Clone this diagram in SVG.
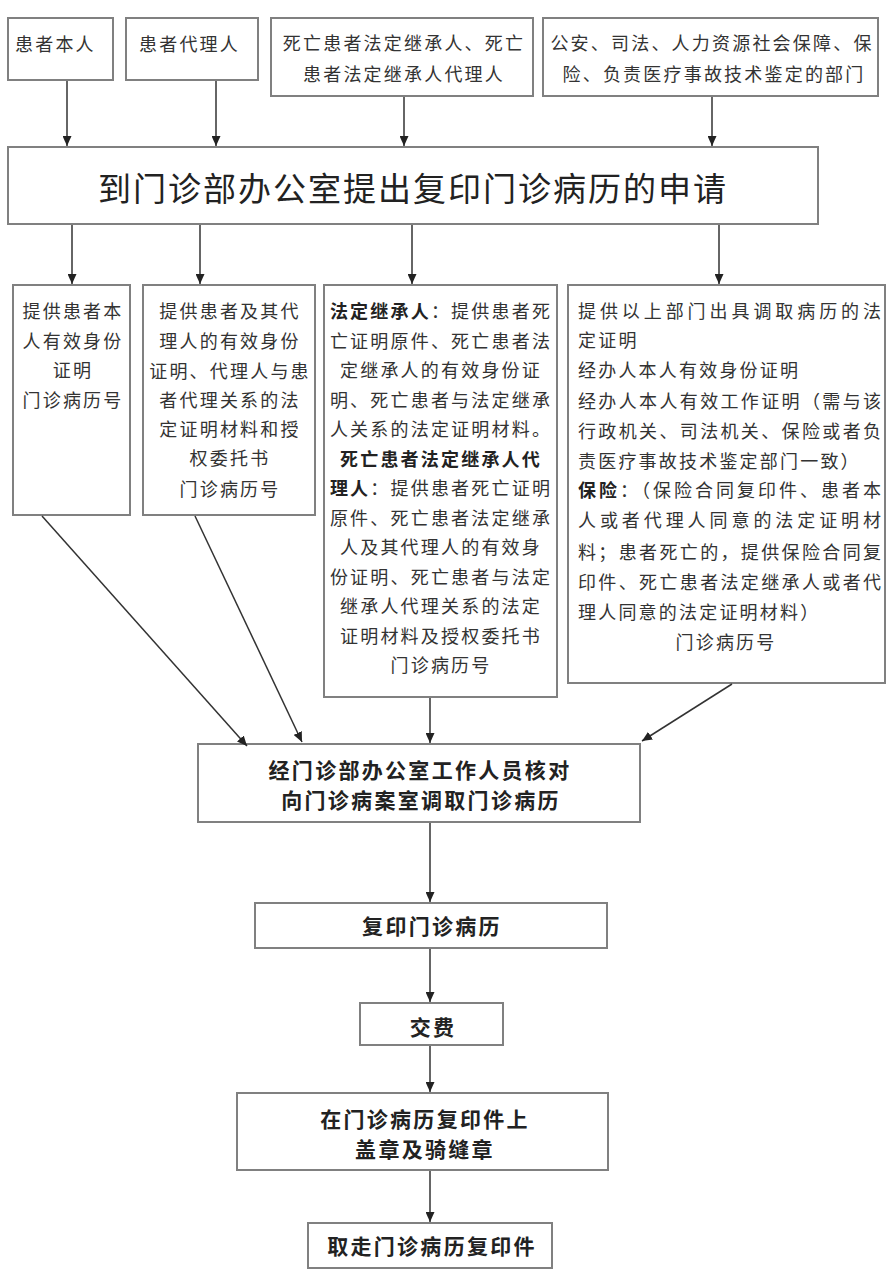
<svg xmlns="http://www.w3.org/2000/svg" width="896" height="1280" viewBox="0 0 896 1280">
<defs>
<marker id="ah" markerUnits="userSpaceOnUse" markerWidth="10" markerHeight="9" refX="10" refY="4.5" orient="auto">
<path d="M0,0 L10,4.5 L0,9 z" fill="#222"/>
</marker>
<style>
.box{fill:#fff;stroke:#808080;stroke-width:2}
.t{font-family:"Noto Sans CJK SC","Noto Sans",sans-serif;font-size:18px;fill:#333;letter-spacing:2.2px}
.j{letter-spacing:0}
.c{text-anchor:middle}
.b{font-weight:bold;fill:#222}
.big{font-family:"Noto Sans CJK SC","Noto Sans",sans-serif;font-size:33px;fill:#222;text-anchor:middle;letter-spacing:2px}
.m{font-family:"Noto Sans CJK SC","Noto Sans",sans-serif;font-size:21px;font-weight:bold;fill:#222;text-anchor:middle;letter-spacing:2.3px}
.ln{stroke:#333;stroke-width:1.5;fill:none;marker-end:url(#ah)}
</style>
</defs>
<rect width="896" height="1280" fill="#fff"/>

<g id="src1"><rect class="box" x="8" y="18" width="105" height="62"/><text class="t" x="15" y="51">患者本人</text></g>
<g id="src2"><rect class="box" x="126" y="18" width="132" height="62"/><text class="t" x="139" y="51">患者代理人</text></g>
<g id="src3"><rect class="box" x="271" y="18" width="262" height="78"/>
<text class="t c" x="404" y="50">死亡患者法定继承人、死亡</text>
<text class="t c" x="404" y="81">患者法定继承人代理人</text></g>
<g id="src4"><rect class="box" x="543" y="18" width="335" height="78"/>
<text class="t c" x="712" y="50">公安、司法、人力资源社会保障、保</text>
<text class="t c" x="714" y="81">险、负责医疗事故技术鉴定的部门</text></g>

<g id="apply"><rect class="box" x="8" y="147" width="810" height="77"/>
<text class="big" x="413" y="201">到门诊部办公室提出复印门诊病历的申请</text></g>

<g id="req1"><rect class="box" x="13" y="285" width="117" height="230"/>
<text class="t c" x="73" y="318">提供患者本</text>
<text class="t c" x="73" y="348">人有效身份</text>
<text class="t c" x="73" y="377">证明</text>
<text class="t c" x="73" y="407">门诊病历号</text></g>

<g id="req2"><rect class="box" x="143" y="285" width="172" height="230"/>
<text class="t c" x="230" y="318">提供患者及其代</text>
<text class="t c" x="230" y="348">理人的有效身份</text>
<text class="t c" x="230" y="378">证明、代理人与患</text>
<text class="t c" x="230" y="407">者代理关系的法</text>
<text class="t c" x="230" y="436">定证明材料和授</text>
<text class="t c" x="230" y="465">权委托书</text>
<text class="t c" x="230" y="496">门诊病历号</text></g>

<g id="req3"><rect class="box" x="324" y="285" width="233" height="412"/>
<text class="t c" x="441" y="318"><tspan class="b">法定继承人</tspan>：提供患者死</text>
<text class="t c" x="441" y="348">亡证明原件、死亡患者法</text>
<text class="t c" x="441" y="377">定继承人的有效身份证</text>
<text class="t c" x="441" y="407">明、死亡患者与法定继承</text>
<text class="t c" x="441" y="436">人关系的法定证明材料。</text>
<text class="t c b" x="441" y="466">死亡患者法定继承人代</text>
<text class="t c" x="441" y="495"><tspan class="b">理人</tspan>：提供患者死亡证明</text>
<text class="t c" x="441" y="525">原件、死亡患者法定继承</text>
<text class="t c" x="441" y="554">人及其代理人的有效身</text>
<text class="t c" x="441" y="584">份证明、死亡患者与法定</text>
<text class="t c" x="441" y="613">继承人代理关系的法定</text>
<text class="t c" x="441" y="643">证明材料及授权委托书</text>
<text class="t c" x="441" y="672">门诊病历号</text></g>

<g id="req4"><rect class="box" x="568" y="285" width="317" height="398"/>
<text class="t j" x="578" y="318" textLength="303" lengthAdjust="spacing">提供以上部门出具调取病历的法</text>
<text class="t" x="578" y="347">定证明</text>
<text class="t" x="578" y="377">经办人本人有效身份证明</text>
<text class="t j" x="578" y="408" textLength="303" lengthAdjust="spacing">经办人本人有效工作证明（需与该</text>
<text class="t j" x="578" y="438" textLength="303" lengthAdjust="spacing">行政机关、司法机关、保险或者负</text>
<text class="t" x="578" y="468">责医疗事故技术鉴定部门一致）</text>
<text class="t j" x="578" y="497" textLength="303" lengthAdjust="spacing"><tspan class="b">保险</tspan>：（保险合同复印件、患者本</text>
<text class="t j" x="578" y="527" textLength="303" lengthAdjust="spacing">人或者代理人同意的法定证明材</text>
<text class="t j" x="578" y="559" textLength="303" lengthAdjust="spacing">料；患者死亡的，提供保险合同复</text>
<text class="t j" x="578" y="589" textLength="303" lengthAdjust="spacing">印件、死亡患者法定继承人或者代</text>
<text class="t" x="578" y="619">理人同意的法定证明材料）</text>
<text class="t c" x="726" y="649">门诊病历号</text></g>

<g id="verify"><rect class="box" x="198" y="744" width="442" height="78"/>
<text class="m" x="420" y="778">经门诊部办公室工作人员核对</text>
<text class="m" x="421" y="808">向门诊病案室调取门诊病历</text></g>

<g id="copy"><rect class="box" x="255" y="903" width="352" height="45"/>
<text class="m" x="432" y="934">复印门诊病历</text></g>

<g id="pay"><rect class="box" x="360" y="1003" width="143" height="42"/>
<text class="m" x="433" y="1035">交费</text></g>

<g id="stamp"><rect class="box" x="237" y="1093" width="371" height="77"/>
<text class="m" x="425" y="1127">在门诊病历复印件上</text>
<text class="m" x="425" y="1157">盖章及骑缝章</text></g>

<g id="take"><rect class="box" x="308" y="1223" width="244" height="45"/>
<text class="m" x="432" y="1254">取走门诊病历复印件</text></g>

<g id="connectors">
<line class="ln" x1="67" y1="81" x2="67" y2="146"/>
<line class="ln" x1="216" y1="81" x2="216" y2="146"/>
<line class="ln" x1="404" y1="97" x2="404" y2="146"/>
<line class="ln" x1="712" y1="97" x2="712" y2="146"/>
<line class="ln" x1="72" y1="225" x2="72" y2="284"/>
<line class="ln" x1="200" y1="225" x2="200" y2="284"/>
<line class="ln" x1="412" y1="225" x2="412" y2="284"/>
<line class="ln" x1="719" y1="225" x2="719" y2="284"/>
<line class="ln" x1="42" y1="516" x2="247" y2="746"/>
<line class="ln" x1="195" y1="516" x2="302" y2="742"/>
<line class="ln" x1="430" y1="698" x2="430" y2="743"/>
<line class="ln" x1="732" y1="684" x2="642" y2="741"/>
<line class="ln" x1="430" y1="823" x2="430" y2="902"/>
<line class="ln" x1="430" y1="949" x2="430" y2="1002"/>
<line class="ln" x1="430" y1="1046" x2="430" y2="1092"/>
<line class="ln" x1="430" y1="1171" x2="430" y2="1222"/>
</g>
</svg>
